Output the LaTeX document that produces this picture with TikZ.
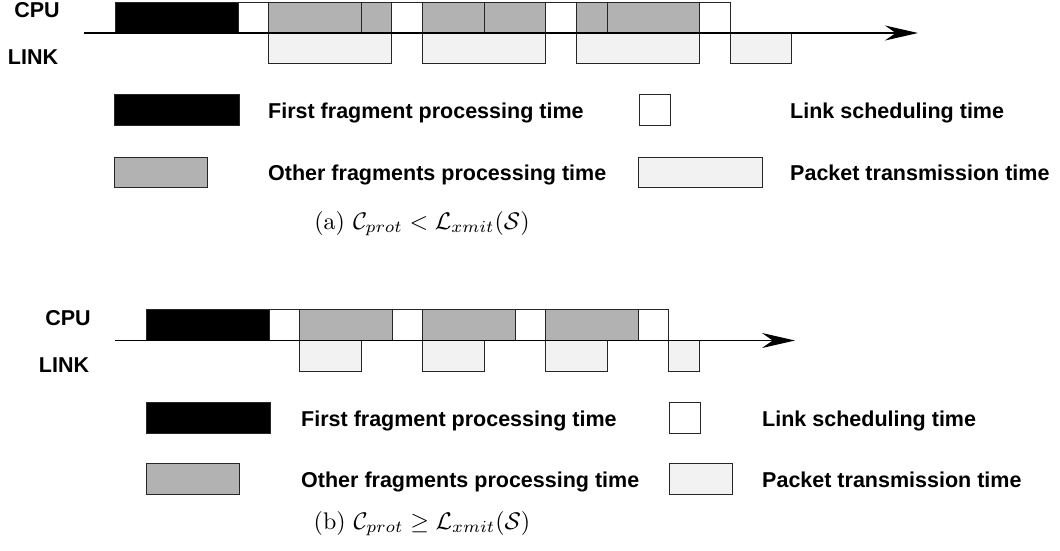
\documentclass[tikz,border=0pt]{standalone}
\usepackage{fontspec}
\setsansfont{Liberation Sans}
\usetikzlibrary{arrows.meta}

\definecolor{otherfill}{gray}{0.70}
\definecolor{xmitfill}{gray}{0.95}

\begin{document}
\begin{tikzpicture}[x=1pt, y=-1pt, >={Stealth[length=33pt,width=15pt]},
                    blk/.style={draw=black!85, line width=1pt, inner sep=0pt, outer sep=0pt, minimum height=30.75pt},
                    cpu/.style={blk, anchor=south west},
                    link/.style={blk, anchor=north west},
                    units/.style={minimum width=#1*30.75pt},
                    first/.style={fill=black},
                    other/.style={fill=otherfill},
                    sched/.style={fill=white},
                    xmit/.style={fill=xmitfill},
                    key/.style={blk, anchor=north west, minimum height=31pt},
                    lbl/.style={font=\fontsize{21.5}{25}\selectfont\sffamily\bfseries, inner sep=0pt},
                    axis/.style={->, line width=1.5pt}]

\useasboundingbox (0,0) rectangle (1060,550);

% (a) C_prot < L_xmit(S)
\node[lbl, anchor=base] (aCPU) at (37,17.5) {CPU};
\node[lbl, anchor=base] (aLINK) at (33,64.5) {LINK};

\node[cpu, first, units=4] (aF) at (115,33) {};
\node[cpu, sched, units=1] (aS1) at (238,33) {};
\node[cpu, other, units=3] (aO1) at (268.75,33) {};
\node[cpu, other, units=1] (aO2) at (361,33) {};
\node[cpu, sched, units=1] (aS2) at (391.75,33) {};
\node[cpu, other, units=2] (aO3) at (422.5,33) {};
\node[cpu, other, units=2] (aO4) at (484,33) {};
\node[cpu, sched, units=1] (aS3) at (545.5,33) {};
\node[cpu, other, units=1] (aO5) at (576.25,33) {};
\node[cpu, other, units=3] (aO6) at (607,33) {};
\node[cpu, sched, units=1] (aS4) at (699.25,33) {};

\node[link, xmit, units=4] (aX1) at (268.75,33) {};
\node[link, xmit, units=4] (aX2) at (422.5,33) {};
\node[link, xmit, units=4] (aX3) at (576.25,33) {};
\node[link, xmit, units=2] (aX4) at (730,33) {};

\coordinate (aT0) at (84,33);
\coordinate (aT1) at (918,33);
\draw[axis] (aT0) -- (aT1);

\node[key, first, minimum width=125pt] (aKF) at (114,94) {};
\node[lbl, anchor=base west] (aTF) at (268,118) {First fragment processing time};
\node[key, sched, minimum width=31pt] (aKS) at (639,94) {};
\node[lbl, anchor=base west] (aTS) at (790,118) {Link scheduling time};
\node[key, other, minimum width=93pt, minimum height=30pt] (aKO) at (114,157) {};
\node[lbl, anchor=base west] (aTO) at (268,180) {Other fragments processing time};
\node[key, xmit, minimum width=124pt, minimum height=30pt] (aKX) at (638,157) {};
\node[lbl, anchor=base west] (aTX) at (790,180) {Packet transmission time};
\node[anchor=base, scale=2.4] (aCap) at (422,229) {(a) $\mathcal{C}_{prot} < \mathcal{L}_{xmit}(\mathcal{S})$};

% (b) C_prot >= L_xmit(S)
\node[lbl, anchor=base] (bCPU) at (68,325.5) {CPU};
\node[lbl, anchor=base] (bLINK) at (64,372.5) {LINK};

\node[cpu, first, units=4] (bF) at (146,340.5) {};
\node[cpu, sched, units=1] (bS1) at (269,340.5) {};
\node[cpu, other, units=3] (bO1) at (299.75,340.5) {};
\node[cpu, sched, units=1] (bS2) at (392,340.5) {};
\node[cpu, other, units=3] (bO2) at (422.75,340.5) {};
\node[cpu, sched, units=1] (bS3) at (515,340.5) {};
\node[cpu, other, units=3] (bO3) at (545.75,340.5) {};
\node[cpu, sched, units=1] (bS4) at (638,340.5) {};

\node[link, xmit, units=2] (bX1) at (299.75,340.5) {};
\node[link, xmit, units=2] (bX2) at (422.75,340.5) {};
\node[link, xmit, units=2] (bX3) at (545.75,340.5) {};
\node[link, xmit, units=1] (bX4) at (668.75,340.5) {};

\coordinate (bT0) at (115,340.5);
\coordinate (bT1) at (795,340.5);
\draw[axis] (bT0) -- (bT1);

\node[key, first, minimum width=124pt] (bKF) at (146,402) {};
\node[lbl, anchor=base west] (bTF) at (301,426) {First fragment processing time};
\node[key, sched, minimum width=31pt] (bKS) at (669,402) {};
\node[lbl, anchor=base west] (bTS) at (762,426) {Link scheduling time};
\node[key, other, minimum width=93pt] (bKO) at (146,463) {};
\node[lbl, anchor=base west] (bTO) at (301,487) {Other fragments processing time};
\node[key, xmit, minimum width=63pt] (bKX) at (669,463) {};
\node[lbl, anchor=base west] (bTX) at (762,487) {Packet transmission time};
\node[anchor=base, scale=2.4] (bCap) at (422,529) {(b) $\mathcal{C}_{prot} \geq \mathcal{L}_{xmit}(\mathcal{S})$};
\end{tikzpicture}
\end{document}
